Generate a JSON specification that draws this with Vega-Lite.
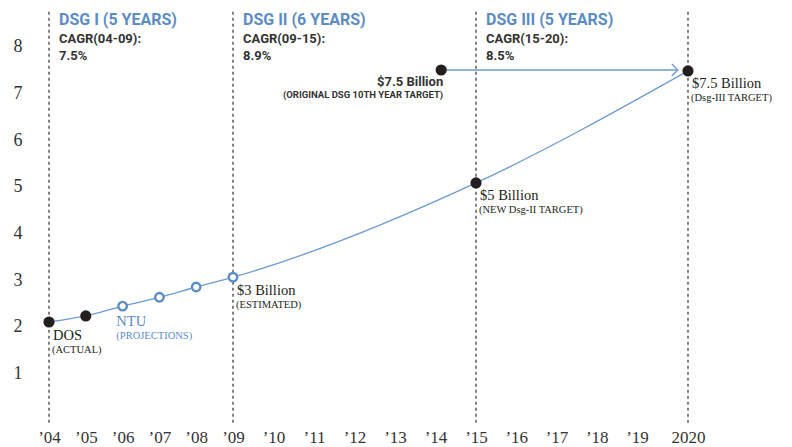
{
  "$schema": "https://vega.github.io/schema/vega-lite/v6.json",
  "width": 639,
  "height": 420,
  "autosize": "none",
  "padding": {"left": 49, "top": 0, "right": 104, "bottom": 27},
  "background": "white",
  "config": {"view": {"stroke": null}, "axis": {"labelOverlap": false}},
  "resolve": {"axis": {"x": "independent", "y": "independent"}},
  "datasets": {
    "points": [
      {"year": 2004, "value": 2.1, "kind": "actual", "label": "DOS", "sub": "(ACTUAL)"},
      {"year": 2005, "value": 2.23, "kind": "actual"},
      {"year": 2006, "value": 2.44, "kind": "projection"},
      {"year": 2007, "value": 2.63, "kind": "projection"},
      {"year": 2008, "value": 2.85, "kind": "projection"},
      {"year": 2009, "value": 3.06, "kind": "projection", "label": "$3 Billion", "sub": "(ESTIMATED)"},
      {"year": 2015, "value": 5.08, "kind": "target", "label": "$5 Billion", "sub": "(NEW Dsg-II TARGET)"},
      {"year": 2020, "value": 7.48, "kind": "target", "label": "$7.5 Billion", "sub": "(Dsg-III TARGET)"},
      {"year": 2014.14, "value": 7.5, "kind": "original", "label": "$7.5 Billion", "sub": "(ORIGINAL DSG 10TH YEAR TARGET)"}
    ],
    "periods": [
      {"year": 2004, "title": "DSG I (5 YEARS)", "cagr": "CAGR(04-09):", "rate": "7.5%"},
      {"year": 2009, "title": "DSG II (6 YEARS)", "cagr": "CAGR(09-15):", "rate": "8.9%"},
      {"year": 2015, "title": "DSG III (5 YEARS)", "cagr": "CAGR(15-20):", "rate": "8.5%"}
    ],
    "boundaries": [{"year": 2004}, {"year": 2009}, {"year": 2015}, {"year": 2020}],
    "arrow": [{"year": 2014.14, "to": 2019.8, "value": 7.5}],
    "notes": [{"year": 2005.83, "value": 2.1, "label": "NTU", "sub": "(PROJECTIONS)"}]
  },
  "layer": [
    {
      "data": {"name": "boundaries"},
      "mark": {"type": "rule", "strokeDash": [3, 3], "color": "#333333", "strokeWidth": 1.2},
      "encoding": {
        "x": {
          "field": "year", "type": "quantitative", "title": null,
          "scale": {"domain": [2004, 2009, 2015, 2019, 2020], "range": [0, 184, 427, 588, 639]},
          "axis": {
            "title": null, "grid": false, "domain": false, "ticks": false,
            "values": [2004, 2005, 2006, 2007, 2008, 2009, 2010, 2011, 2012, 2013, 2014, 2015, 2016, 2017, 2018, 2019, 2020],
            "labelExpr": "datum.value == 2020 ? '2020' : '’' + slice(toString(datum.value), 2)",
            "labelFont": "Liberation Serif", "labelFontSize": 17, "labelColor": "#333333",
            "labelPadding": 9, "labelFlush": false, "labelOverlap": false
          }
        },
        "y": {
          "datum": 8.75, "type": "quantitative", "title": null,
          "scale": {"domain": [0, 9], "nice": false, "zero": false},
          "axis": {
            "title": null, "grid": false, "domain": false, "ticks": false,
            "values": [1, 2, 3, 4, 5, 6, 7, 8],
            "labelFont": "Liberation Serif", "labelFontSize": 18, "labelColor": "#333333",
            "labelPadding": 27
          }
        },
        "y2": {"datum": -0.06}
      }
    },
    {
      "data": {"name": "points"},
      "transform": [{"filter": "datum.kind != 'original'"}],
      "mark": {"type": "line", "interpolate": "monotone", "color": "#6b9bd2", "strokeWidth": 1.3},
      "encoding": {
        "x": {"field": "year", "type": "quantitative", "axis": null},
        "y": {"field": "value", "type": "quantitative", "axis": null}
      }
    },
    {
      "data": {"name": "arrow"},
      "mark": {"type": "rule", "color": "#6b9bd2", "strokeWidth": 1.3},
      "encoding": {
        "x": {"field": "year", "type": "quantitative", "axis": null},
        "x2": {"field": "to"},
        "y": {"field": "value", "type": "quantitative", "axis": null}
      }
    },
    {
      "data": {"name": "arrow"},
      "mark": {"type": "point", "shape": "M-1,-1L0,0L-1,1", "filled": false, "stroke": "#6b9bd2", "strokeWidth": 1.3, "size": 144, "opacity": 1},
      "encoding": {
        "x": {"field": "to", "type": "quantitative", "axis": null},
        "y": {"field": "value", "type": "quantitative", "axis": null}
      }
    },
    {
      "data": {"name": "points"},
      "transform": [{"filter": "datum.kind != 'projection'"}],
      "mark": {"type": "circle", "color": "#231f20", "size": 125, "opacity": 1},
      "encoding": {
        "x": {"field": "year", "type": "quantitative", "axis": null},
        "y": {"field": "value", "type": "quantitative", "axis": null}
      }
    },
    {
      "data": {"name": "points"},
      "transform": [{"filter": "datum.kind == 'projection'"}],
      "mark": {"type": "point", "shape": "circle", "filled": true, "fill": "white", "stroke": "#5b8cc6", "strokeWidth": 2.4, "size": 72, "opacity": 1},
      "encoding": {
        "x": {"field": "year", "type": "quantitative", "axis": null},
        "y": {"field": "value", "type": "quantitative", "axis": null}
      }
    },
    {
      "data": {"name": "periods"},
      "mark": {"type": "text", "align": "left", "baseline": "middle", "dx": 10, "font": "Roboto", "fontWeight": "bold", "fontSize": 16, "color": "#5b8cc6"},
      "encoding": {
        "x": {"field": "year", "type": "quantitative", "axis": null},
        "y": {"datum": 8.57, "type": "quantitative", "axis": null},
        "text": {"field": "title"}
      }
    },
    {
      "data": {"name": "periods"},
      "mark": {"type": "text", "align": "left", "baseline": "middle", "dx": 10, "font": "Roboto", "fontWeight": "bold", "fontSize": 13, "color": "#333333"},
      "encoding": {
        "x": {"field": "year", "type": "quantitative", "axis": null},
        "y": {"datum": 8.16, "type": "quantitative", "axis": null},
        "text": {"field": "cagr"}
      }
    },
    {
      "data": {"name": "periods"},
      "mark": {"type": "text", "align": "left", "baseline": "middle", "dx": 10, "font": "Roboto", "fontWeight": "bold", "fontSize": 13, "color": "#333333"},
      "encoding": {
        "x": {"field": "year", "type": "quantitative", "axis": null},
        "y": {"datum": 7.8, "type": "quantitative", "axis": null},
        "text": {"field": "rate"}
      }
    },
    {
      "data": {"name": "points"},
      "transform": [{"filter": "datum.label != null && datum.kind != 'original'"}],
      "mark": {"type": "text", "align": "left", "baseline": "middle", "dx": 4, "dy": 13.5, "font": "Liberation Serif", "fontSize": 14.5, "color": "#231f20"},
      "encoding": {
        "x": {"field": "year", "type": "quantitative", "axis": null},
        "y": {"field": "value", "type": "quantitative", "axis": null},
        "text": {"field": "label"}
      }
    },
    {
      "data": {"name": "points"},
      "transform": [{"filter": "datum.sub != null && datum.kind != 'original'"}],
      "mark": {"type": "text", "align": "left", "baseline": "middle", "dx": 3, "dy": 27.5, "font": "Liberation Serif", "fontSize": 10.5, "color": "#231f20"},
      "encoding": {
        "x": {"field": "year", "type": "quantitative", "axis": null},
        "y": {"field": "value", "type": "quantitative", "axis": null},
        "text": {"field": "sub"}
      }
    },
    {
      "data": {"name": "notes"},
      "mark": {"type": "text", "align": "left", "baseline": "middle", "font": "Liberation Serif", "fontSize": 14.5, "color": "#5b8cc6"},
      "encoding": {
        "x": {"field": "year", "type": "quantitative", "axis": null},
        "y": {"field": "value", "type": "quantitative", "axis": null},
        "text": {"field": "label"}
      }
    },
    {
      "data": {"name": "notes"},
      "mark": {"type": "text", "align": "left", "baseline": "middle", "dy": 14, "font": "Liberation Serif", "fontSize": 10.5, "color": "#5b8cc6"},
      "encoding": {
        "x": {"field": "year", "type": "quantitative", "axis": null},
        "y": {"field": "value", "type": "quantitative", "axis": null},
        "text": {"field": "sub"}
      }
    },
    {
      "data": {"name": "points"},
      "transform": [{"filter": "datum.kind == 'original'"}],
      "mark": {"type": "text", "align": "right", "baseline": "middle", "dx": 2, "dy": 12, "font": "Roboto", "fontWeight": "bold", "fontSize": 13, "color": "#333333"},
      "encoding": {
        "x": {"field": "year", "type": "quantitative", "axis": null},
        "y": {"field": "value", "type": "quantitative", "axis": null},
        "text": {"field": "label"}
      }
    },
    {
      "data": {"name": "points"},
      "transform": [{"filter": "datum.kind == 'original'"}],
      "mark": {"type": "text", "align": "right", "baseline": "middle", "dx": 2, "dy": 25, "font": "Roboto", "fontWeight": "bold", "fontSize": 9.5, "color": "#333333"},
      "encoding": {
        "x": {"field": "year", "type": "quantitative", "axis": null},
        "y": {"field": "value", "type": "quantitative", "axis": null},
        "text": {"field": "sub"}
      }
    }
  ]
}
